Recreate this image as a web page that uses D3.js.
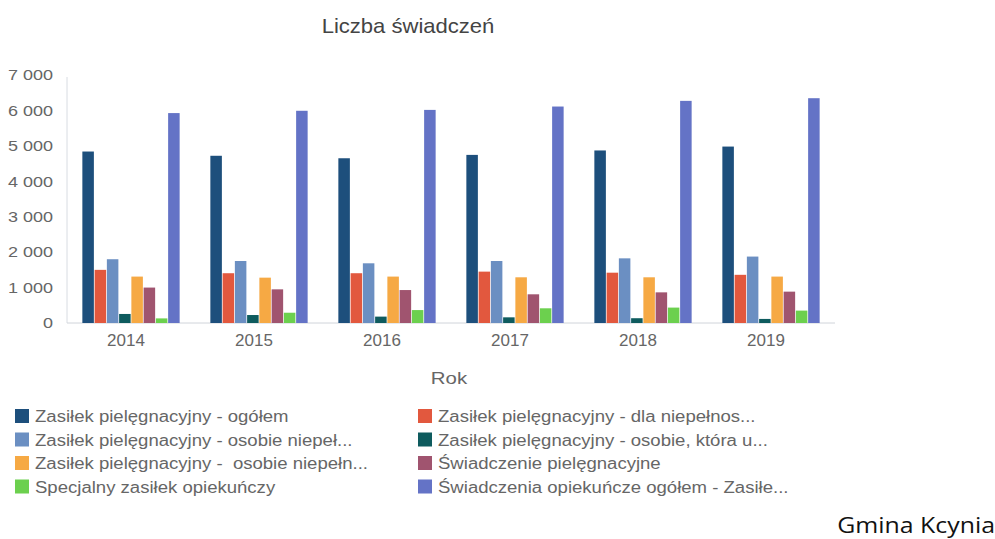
<!DOCTYPE html>
<html><head><meta charset="utf-8">
<script src="https://cdn.jsdelivr.net/npm/d3@7"></script>
<style>body{margin:0;background:#fff;}svg{display:block;}</style>
</head><body>
<svg id="c" width="995" height="539"></svg>
<script>
const years = ["2014","2015","2016","2017","2018","2019"];
const seriesNames = [
  "Zasiłek pielęgnacyjny - ogółem",
  "Zasiłek pielęgnacyjny - dla niepełnos...",
  "Zasiłek pielęgnacyjny - osobie niepeł...",
  "Zasiłek pielęgnacyjny - osobie, która u...",
  "Zasiłek pielęgnacyjny -  osobie niepełn...",
  "Świadczenie pielęgnacyjne",
  "Specjalny zasiłek opiekuńczy",
  "Świadczenia opiekuńcze ogółem - Zasiłe..."
];
const sOgolem      = [4840, 4720, 4650, 4745, 4870, 4980];
const sNiepelnos   = [1500, 1405, 1405, 1450, 1420, 1360];
const sNiepel      = [1800, 1750, 1685, 1750, 1825, 1875];
const sKtoraU      = [255, 225, 180, 160, 135, 115];
const sNiepeln     = [1310, 1280, 1310, 1290, 1290, 1310];
const sSwiadczenie = [1000, 950, 930, 810, 865, 885];
const sSpecjalny   = [130, 290, 365, 415, 435, 350];
const sOpiekuncze  = [5925, 5990, 6015, 6110, 6270, 6345];
const seriesValues = [sOgolem, sNiepelnos, sNiepel, sKtoraU, sNiepeln, sSwiadczenie, sSpecjalny, sOpiekuncze];
const yTicks = [0, 1000, 2000, 3000, 4000, 5000, 6000, 7000];
const colors = ["#1d4f7c", "#e2583e", "#6b8fc2", "#0e5b5e", "#f6a944", "#a0546f", "#6cd04e", "#6473c6"];

const svg = d3.select("#c");
const m = {left: 67, right: 835, top: 75, bottom: 323};
const x0 = d3.scaleBand().domain(years).range([m.left, m.right]).paddingInner(0.24).paddingOuter(0.12);
const x1 = d3.scaleBand().domain(d3.range(seriesNames.length)).range([0, x0.bandwidth()]).paddingInner(0.06);
const y = d3.scaleLinear().domain([0, 7000]).range([m.bottom, m.top]);
const fmt = v => d3.format(",")(v).replace(/,/g, " ");
const font = "'Liberation Sans', Arial, sans-serif";

function label(parent, x, yy, txt, size, sx, anchor, fill, fam) {
  return parent.append("text")
    .attr("transform", `translate(${x},${yy}) scale(${sx},1)`)
    .attr("text-anchor", anchor)
    .attr("font-family", fam || font).attr("font-size", size).attr("fill", fill)
    .attr("xml:space", "preserve").style("white-space", "pre")
    .text(txt);
}

label(svg, 408, 33, "Liczba świadczeń", 21, 1.05, "middle", "#444");

// y axis
const ya = svg.append("g").attr("transform", `translate(${m.left},0)`)
  .call(d3.axisLeft(y).tickValues(yTicks).tickFormat(fmt).tickSize(0).tickPadding(11.7));
ya.select(".domain").attr("stroke", "#d8dce2").attr("d", `M0,${m.top + 2}V${m.bottom}`);
ya.selectAll("text").attr("font-family", font).attr("font-size", 15).attr("fill", "#666")
  .attr("transform", "scale(1.2,1)");

// x axis
const xa = svg.append("g").attr("transform", `translate(0,${m.bottom})`)
  .call(d3.axisBottom(x0).tickSize(0).tickPadding(10));
xa.select(".domain").attr("stroke", "#d0d4da").attr("d", `M${m.left},0H${m.right}`);
xa.selectAll("text").attr("font-family", font).attr("font-size", 17).attr("fill", "#666")
  .attr("dx", -5).attr("y", 11);

label(svg, 449, 384, "Rok", 17, 1.2, "middle", "#666");

// bars
const g = svg.append("g");
years.forEach((yr, i) => {
  seriesValues.forEach((vals, s) => {
    g.append("rect")
      .attr("x", x0(yr) + x1(s))
      .attr("y", y(vals[i]))
      .attr("width", x1.bandwidth())
      .attr("height", y(0) - y(vals[i]))
      .attr("fill", colors[s]);
  });
});

// legend
const lg = svg.append("g");
seriesNames.forEach((name, s) => {
  const col = s % 2, row = Math.floor(s / 2);
  const lx = col === 0 ? 15 : 418, ly = 416 + row * 23.5;
  lg.append("rect").attr("x", lx).attr("y", ly - 7).attr("width", 14).attr("height", 14).attr("fill", colors[s]);
  label(lg, lx + 20, ly + 6, name, 16, 1.16, "start", "#666");
});

label(svg, 995, 533, "Gmina Kcynia", 22, 1.13, "end", "#111", "'Open Sans', 'Noto Sans', sans-serif");
</script>
</body></html>
